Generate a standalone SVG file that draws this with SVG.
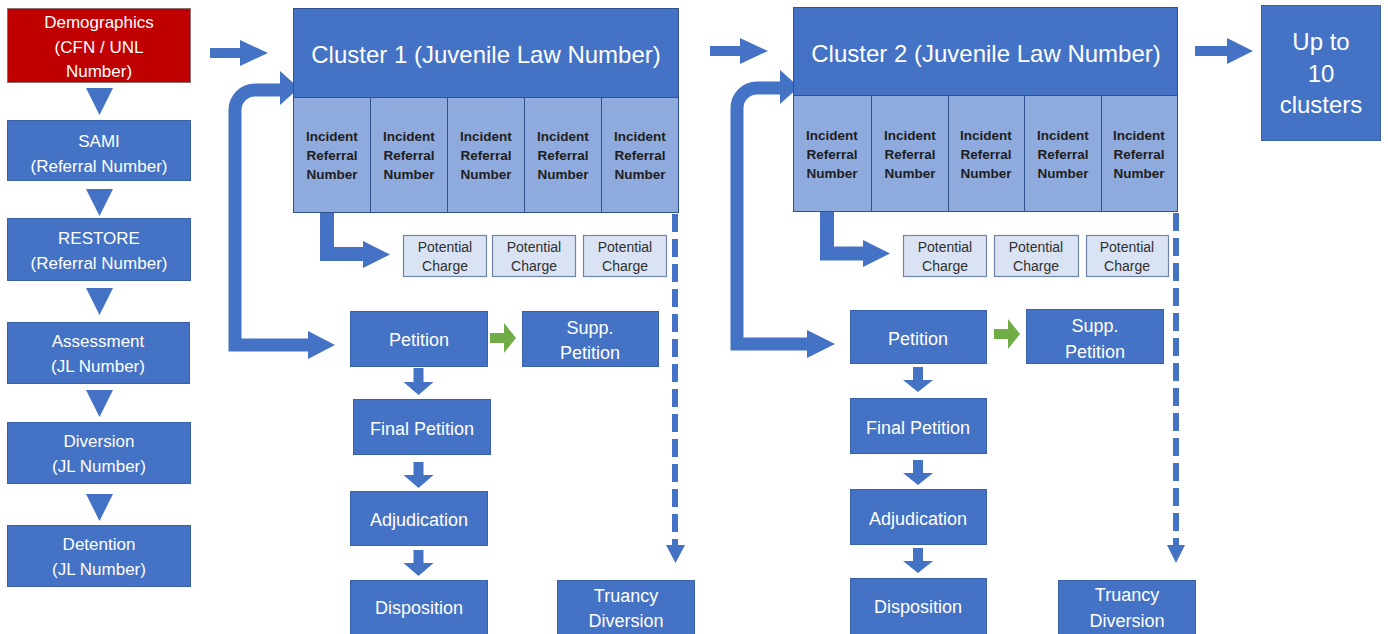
<svg xmlns="http://www.w3.org/2000/svg" width="1388" height="634" viewBox="0 0 1388 634">
<style>
.box{fill:#4472c4;stroke:#3a62a8;stroke-width:1}
.red{fill:#c00000;stroke:#8f6f6f;stroke-width:1}
.hdr{fill:#4472c4;stroke:#2f528f;stroke-width:1}
.cell{fill:#8faadc;stroke:#2f528f;stroke-width:1}
.pc{fill:#dae3f3;stroke:#6f84a8;stroke-width:1.2}
.t{font-family:"Liberation Sans",Arial,sans-serif;fill:#ffffff;text-anchor:middle}
.l{font-size:17px}
.m{font-size:18px}
.big{font-size:24px}
.ct{font-family:"Liberation Sans",Arial,sans-serif;font-size:13.5px;font-weight:bold;fill:#1e1e1e;text-anchor:middle}
.pt{font-family:"Liberation Sans",Arial,sans-serif;font-size:14px;fill:#303030;text-anchor:middle}
.arr{fill:#4472c4}
.grn{fill:#70ad47}
.thick{fill:none;stroke:#4472c4;stroke-width:13;stroke-linejoin:miter}
.dash{fill:none;stroke:#4472c4;stroke-width:6;stroke-dasharray:18 7}
</style>

<g id="connectors">
  <!-- left column triangles -->
  <polygon class="arr" points="86,88 113,88 99.5,115"/>
  <polygon class="arr" points="86,189 113,189 99.5,216"/>
  <polygon class="arr" points="86,288 113,288 99.5,315"/>
  <polygon class="arr" points="86,390 113,390 99.5,417"/>
  <polygon class="arr" points="86,494 113,494 99.5,521"/>
  <!-- right block arrows -->
  <polygon class="arr" points="210,48 240,48 240,40 268,53 240,66 240,58 210,58"/>
  <polygon class="arr" points="710,46 740,46 740,38 768,51 740,64 740,56 710,56"/>
  <polygon class="arr" points="1195,46 1227,46 1227,38 1253,51 1227,64 1227,56 1195,56"/>
  <!-- cluster 1 loop arrow -->
  <path class="thick" d="M309,345 H235 V110 A20,20 0 0 1 255,90 H281"/>
  <polygon class="arr" points="308,331 335,345 308,359"/>
  <polygon class="arr" points="280,71 299,88 280,105"/>
  <!-- cluster 2 loop arrow -->
  <path class="thick" d="M808,344 H737 V108 A20,20 0 0 1 757,88 H781"/>
  <polygon class="arr" points="807,330 835,344 807,358"/>
  <polygon class="arr" points="780,70 799,87 780,104"/>
  <!-- cell to potential charge -->
  <path class="thick" d="M327,211 V254 H364" style="stroke-width:14"/>
  <polygon class="arr" points="363,241 390,254.5 363,268"/>
  <path class="thick" d="M827,210 V253.5 H864" style="stroke-width:14"/>
  <polygon class="arr" points="863,240 890,253.5 863,267"/>
  <!-- dashed down arrows -->
  <path class="dash" d="M675,214 V546"/>
  <polygon class="arr" points="666,545 685,545 675.5,563"/>
  <path class="dash" d="M1176,213 V546"/>
  <polygon class="arr" points="1167,545 1185,545 1176,563"/>
  <!-- green arrows -->
  <polygon class="grn" points="490,333 504,333 504,323 516,338 504,353 504,343 490,343"/>
  <polygon class="grn" points="994,329 1008,329 1008,319 1020,334 1008,349 1008,339 994,339"/>
  <!-- cluster 1 down arrows -->
  <polygon class="arr" points="413.5,368 423.5,368 423.5,382 433.5,382 418.5,395 403.5,382 413.5,382"/>
  <polygon class="arr" points="413.5,462 423.5,462 423.5,475 433.5,475 418.5,488 403.5,475 413.5,475"/>
  <polygon class="arr" points="413.5,550 423.5,550 423.5,563 433.5,563 418.5,576 403.5,563 413.5,563"/>
  <!-- cluster 2 down arrows -->
  <polygon class="arr" points="913,367 923,367 923,380 933,380 918,392 903,380 913,380"/>
  <polygon class="arr" points="913,460 923,460 923,473 933,473 918,485 903,473 913,473"/>
  <polygon class="arr" points="913,548 923,548 923,561 933,561 918,573 903,561 913,561"/>
</g>

<g id="demographics"><rect class="red" x="7.5" y="8.5" width="183" height="74"/>
  <text class="t l" x="99" y="28">Demographics</text><text class="t l" x="99" y="53">(CFN / UNL</text><text class="t l" x="99" y="77">Number)</text></g>
<g id="sami"><rect class="box" x="7.5" y="120.5" width="183" height="60"/>
  <text class="t l" x="99" y="147">SAMI</text><text class="t l" x="99" y="172">(Referral Number)</text></g>
<g id="restore"><rect class="box" x="7.5" y="218.5" width="183" height="62"/>
  <text class="t l" x="99" y="244">RESTORE</text><text class="t l" x="99" y="269">(Referral Number)</text></g>
<g id="assessment"><rect class="box" x="7.5" y="322.5" width="182" height="61"/>
  <text class="t l" x="98" y="347">Assessment</text><text class="t l" x="98" y="372">(JL Number)</text></g>
<g id="diversion"><rect class="box" x="7.5" y="422.5" width="183" height="61"/>
  <text class="t l" x="99" y="447">Diversion</text><text class="t l" x="99" y="472">(JL Number)</text></g>
<g id="detention"><rect class="box" x="7.5" y="525.5" width="183" height="61"/>
  <text class="t l" x="99" y="550">Detention</text><text class="t l" x="99" y="575">(JL Number)</text></g>

<g id="cluster1">
  <rect class="hdr" x="293.5" y="8.5" width="385" height="89"/>
  <text class="t big" x="486" y="63">Cluster 1 (Juvenile Law Number)</text>
  <rect class="cell" x="293.5" y="97.5" width="77" height="115"/>
  <rect class="cell" x="370.5" y="97.5" width="77" height="115"/>
  <rect class="cell" x="447.5" y="97.5" width="77" height="115"/>
  <rect class="cell" x="524.5" y="97.5" width="77" height="115"/>
  <rect class="cell" x="601.5" y="97.5" width="77" height="115"/>
  <text class="ct" x="332" y="141">Incident</text><text class="ct" x="332" y="160">Referral</text><text class="ct" x="332" y="179">Number</text>
  <text class="ct" x="409" y="141">Incident</text><text class="ct" x="409" y="160">Referral</text><text class="ct" x="409" y="179">Number</text>
  <text class="ct" x="486" y="141">Incident</text><text class="ct" x="486" y="160">Referral</text><text class="ct" x="486" y="179">Number</text>
  <text class="ct" x="563" y="141">Incident</text><text class="ct" x="563" y="160">Referral</text><text class="ct" x="563" y="179">Number</text>
  <text class="ct" x="640" y="141">Incident</text><text class="ct" x="640" y="160">Referral</text><text class="ct" x="640" y="179">Number</text>
</g>
<g id="charges1">
  <rect class="pc" x="403.5" y="235.5" width="83" height="41"/>
  <text class="pt" x="445" y="252">Potential</text><text class="pt" x="445" y="271">Charge</text>
  <rect class="pc" x="492.5" y="235.5" width="83" height="41"/>
  <text class="pt" x="534" y="252">Potential</text><text class="pt" x="534" y="271">Charge</text>
  <rect class="pc" x="583.5" y="235.5" width="83" height="41"/>
  <text class="pt" x="625" y="252">Potential</text><text class="pt" x="625" y="271">Charge</text>
</g>
<g id="petition1"><rect class="box" x="350.5" y="311.5" width="137" height="55"/><text class="t m" x="419" y="346">Petition</text></g>
<g id="supp1"><rect class="box" x="522.5" y="311.5" width="136" height="55"/><text class="t m" x="590" y="334">Supp.</text><text class="t m" x="590" y="359">Petition</text></g>
<g id="final1"><rect class="box" x="353.5" y="399.5" width="137" height="55"/><text class="t m" x="422" y="435">Final Petition</text></g>
<g id="adjudication1"><rect class="box" x="350.5" y="491.5" width="137" height="54"/><text class="t m" x="419" y="526">Adjudication</text></g>
<g id="disposition1"><rect class="box" x="350.5" y="580.5" width="137" height="56"/><text class="t m" x="419" y="614">Disposition</text></g>
<g id="truancy1"><rect class="box" x="557.5" y="580.5" width="137" height="56"/><text class="t m" x="626" y="602">Truancy</text><text class="t m" x="626" y="627">Diversion</text></g>

<g id="cluster2">
  <rect class="hdr" x="793.5" y="7.5" width="384" height="88"/>
  <text class="t big" x="986" y="62">Cluster 2 (Juvenile Law Number)</text>
  <rect class="cell" x="793.5" y="95.5" width="78" height="116"/>
  <rect class="cell" x="871.5" y="95.5" width="77" height="116"/>
  <rect class="cell" x="948.5" y="95.5" width="76" height="116"/>
  <rect class="cell" x="1024.5" y="95.5" width="77" height="116"/>
  <rect class="cell" x="1101.5" y="95.5" width="76" height="116"/>
  <text class="ct" x="832" y="140">Incident</text><text class="ct" x="832" y="159">Referral</text><text class="ct" x="832" y="178">Number</text>
  <text class="ct" x="910" y="140">Incident</text><text class="ct" x="910" y="159">Referral</text><text class="ct" x="910" y="178">Number</text>
  <text class="ct" x="986" y="140">Incident</text><text class="ct" x="986" y="159">Referral</text><text class="ct" x="986" y="178">Number</text>
  <text class="ct" x="1063" y="140">Incident</text><text class="ct" x="1063" y="159">Referral</text><text class="ct" x="1063" y="178">Number</text>
  <text class="ct" x="1139" y="140">Incident</text><text class="ct" x="1139" y="159">Referral</text><text class="ct" x="1139" y="178">Number</text>
</g>
<g id="charges2">
  <rect class="pc" x="903.5" y="235.5" width="83" height="41"/>
  <text class="pt" x="945" y="252">Potential</text><text class="pt" x="945" y="271">Charge</text>
  <rect class="pc" x="994.5" y="235.5" width="84" height="41"/>
  <text class="pt" x="1036" y="252">Potential</text><text class="pt" x="1036" y="271">Charge</text>
  <rect class="pc" x="1086.5" y="235.5" width="82" height="41"/>
  <text class="pt" x="1127" y="252">Potential</text><text class="pt" x="1127" y="271">Charge</text>
</g>
<g id="petition2"><rect class="box" x="850.5" y="310.5" width="136" height="53"/><text class="t m" x="918" y="345">Petition</text></g>
<g id="supp2"><rect class="box" x="1026.5" y="309.5" width="137" height="54"/><text class="t m" x="1095" y="332">Supp.</text><text class="t m" x="1095" y="358">Petition</text></g>
<g id="final2"><rect class="box" x="850.5" y="398.5" width="136" height="55"/><text class="t m" x="918" y="434">Final Petition</text></g>
<g id="adjudication2"><rect class="box" x="850.5" y="489.5" width="136" height="55"/><text class="t m" x="918" y="525">Adjudication</text></g>
<g id="disposition2"><rect class="box" x="850.5" y="578.5" width="136" height="58"/><text class="t m" x="918" y="613">Disposition</text></g>
<g id="truancy2"><rect class="box" x="1058.5" y="580.5" width="137" height="56"/><text class="t m" x="1127" y="601">Truancy</text><text class="t m" x="1127" y="627">Diversion</text></g>

<g id="upto10"><rect class="box" x="1261.5" y="5.5" width="119" height="135"/>
  <text class="t big" x="1321" y="50">Up to</text><text class="t big" x="1321" y="82">10</text><text class="t big" x="1321" y="113">clusters</text></g>
</svg>
